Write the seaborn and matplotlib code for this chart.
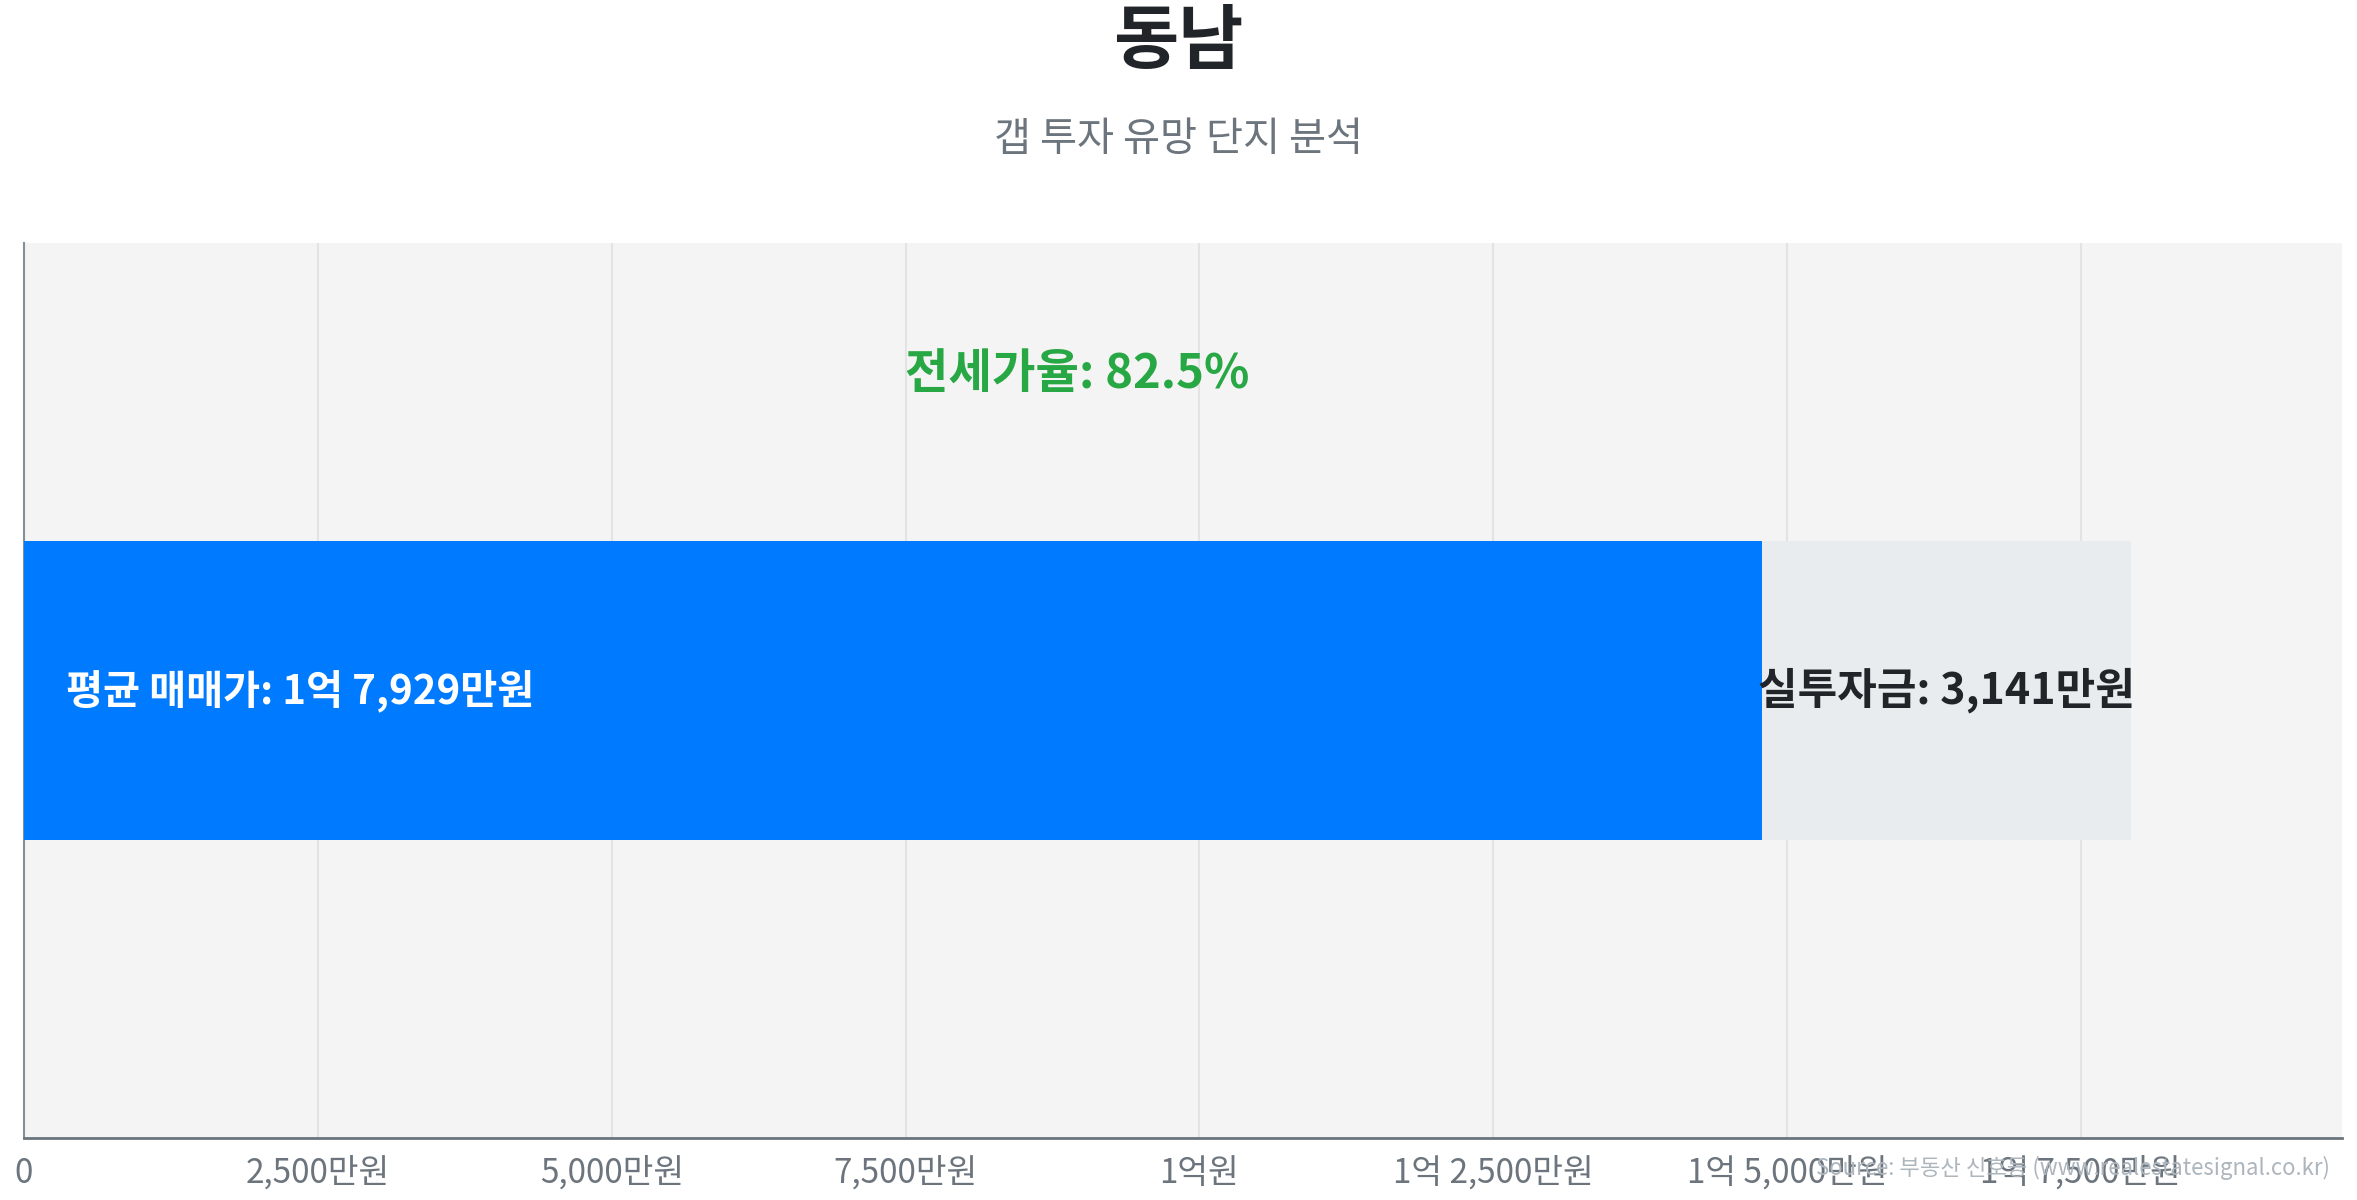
import matplotlib
matplotlib.use('Agg')
import matplotlib.pyplot as plt
import seaborn as sns
import pandas as pd

# values (unit: 만원)
region = '동남'
subtitle = '갭 투자 유망 단지 분석'
sale_price = 17929       # 평균 매매가
jeonse_price = 14788     # 평균 전세가
gap_money = 3141         # 실투자금
jeonse_ratio = 82.5      # 전세가율 (%)

tick_values = [0, 2500, 5000, 7500, 10000, 12500, 15000, 17500]
tick_labels = ['0', '2,500만원', '5,000만원', '7,500만원', '1억원',
               '1억 2,500만원', '1억 5,000만원', '1억 7,500만원']

sale_label = '평균 매매가: 1억 7,929만원'
gap_label = '실투자금: 3,141만원'
source_text = 'Source: 부동산 신호등 (www.realestatesignal.co.kr)'

sns.set_theme(style='white')
plt.rcParams['font.family'] = ['Noto Sans CJK KR', 'DejaVu Sans']

fig = plt.figure(figsize=(23.57, 12), dpi=100)
ax = fig.add_axes([0.0102, 0.0517, 0.9834, 0.7458])
ax.set_facecolor('#f4f4f4')

df = pd.DataFrame({'지역': [region], '매매가': [sale_price], '전세가': [jeonse_price]})

# grey bar = full sale price, blue bar = jeonse part drawn on top
sns.barplot(data=df, x='매매가', y='지역', orient='h', color='#e9ecef',
            saturation=1, width=1.0, linewidth=0, ax=ax, zorder=2)
sns.barplot(data=df, x='전세가', y='지역', orient='h', color='#007bff',
            saturation=1, width=1.0, linewidth=0, ax=ax, zorder=3)

ax.set_xlim(0, sale_price * 1.1)
ax.set_ylim(-1.5, 1.5)
ax.set_yticks([])
ax.set_xlabel('')
ax.set_ylabel('')

ax.set_xticks(tick_values)
ax.set_xticklabels(tick_labels, fontsize=24, color='#6c757d')
ax.tick_params(axis='x', length=8, width=1.5, color='#6c757d', pad=5, direction='out')
ax.xaxis.grid(True, color='#e3e3e3', linewidth=1.5, zorder=0)
ax.set_axisbelow(True)

for side in ['top', 'right']:
    ax.spines[side].set_visible(False)
ax.spines['left'].set_color('#868e96')
ax.spines['left'].set_linewidth(1.5)
ax.spines['bottom'].set_color('#6c757d')
ax.spines['bottom'].set_linewidth(2)

# labels
ax.text(sale_price * 0.02, 0, sale_label, color='white', fontsize=29,
        fontweight='bold', ha='left', va='center', zorder=4)
ax.text(jeonse_price + gap_money / 2, 0, gap_label, color='#212529', fontsize=31,
        fontweight='bold', ha='center', va='center', zorder=4)
ax.text(sale_price / 2, 1.06, f'전세가율: {jeonse_ratio}%', color='#28a745',
        fontsize=34, fontweight='bold', ha='center', va='center', zorder=4)

fig.text(0.5, 0.965, region, ha='center', va='center', fontsize=51,
         fontweight='bold', color='#212529')
fig.text(0.5, 0.884, subtitle, ha='center', va='center', fontsize=29,
         color='#6c757d')
fig.text(0.9885, 0.027, source_text, ha='right', va='center', fontsize=16,
         color='#adb5bd')

fig.savefig('out.png', dpi=100)
